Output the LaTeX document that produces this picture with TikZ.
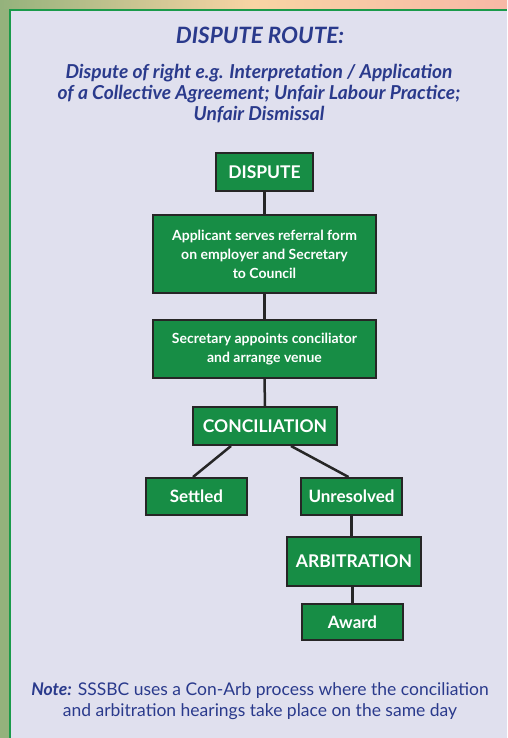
\documentclass[tikz,border=0pt]{standalone}
\usepackage{fontspec}
\setmainfont{Lato}
\usetikzlibrary{calc}
\definecolor{navy}{HTML}{2A3A8C}
\definecolor{boxgreen}{HTML}{178D45}
\definecolor{panel}{HTML}{E0E0EE}
\definecolor{frame}{HTML}{1A9A4A}
\definecolor{bgleft}{HTML}{94B27C}
\definecolor{bgmid}{HTML}{F8D4A4}
\definecolor{bgright}{HTML}{F8B8A6}
\tikzset{
  gbox/.style={draw=black!85, line width=2pt, fill=boxgreen, text=white,
    font=\bfseries, align=center, inner sep=0pt},
  conn/.style={draw=black!85, line width=2.5pt},
  heading/.style={text=navy, align=center, inner sep=0pt}
}
\begin{document}
\begin{tikzpicture}[x=1pt,y=-1pt]
\useasboundingbox (0,0) rectangle (507,738);
% background
\fill[bgleft] (0,0) rectangle (9,738);
\shade[left color=bgleft, right color=bgright, middle color=bgmid] (0,0) rectangle (507,9);
\fill[panel] (9,9) rectangle (507,738);
\draw[frame, line width=2.5pt] (10,738) -- (10,10) -- (507,10);
% titles
\node[heading, font=\fontsize{22.5}{24}\selectfont\bfseries\itshape] (title) at (260,35) {DISPUTE ROUTE:};
\node[heading, font=\fontsize{19.2}{21}\selectfont\bfseries\itshape] (sub) at (259,94)
  {Dispute of right e.g. Interpretation / Application\\of a Collective Agreement; Unfair Labour Practice;\\Unfair Dismissal};
% boxes
\node[gbox, minimum width=97pt, minimum height=38pt, font=\fontsize{17.5}{18}\selectfont\bfseries] (disp) at (264.5,172) {DISPUTE};
\node[gbox, minimum width=223pt, minimum height=78pt, font=\fontsize{14}{19}\selectfont\bfseries] (appl) at (264.5,254)
  {Applicant serves referral form\\on employer and Secretary\\to Council};
\node[gbox, minimum width=223pt, minimum height=58pt, font=\fontsize{14}{19}\selectfont\bfseries] (sec) at (264.5,349)
  {Secretary appoints conciliator\\and arrange venue};
\node[gbox, minimum width=144pt, minimum height=38pt, font=\fontsize{17.5}{18}\selectfont\bfseries] (conc) at (265,426) {CONCILIATION};
\node[gbox, minimum width=101pt, minimum height=37pt, font=\fontsize{17}{18}\selectfont\bfseries] (sett) at (196.5,496.5) {Settled};
\node[gbox, minimum width=101pt, minimum height=37pt, font=\fontsize{17}{18}\selectfont\bfseries] (unres) at (351.5,496.5) {Unresolved};
\node[gbox, minimum width=134pt, minimum height=49pt, font=\fontsize{17.5}{18}\selectfont\bfseries] (arb) at (354,561.5) {ARBITRATION};
\node[gbox, minimum width=101pt, minimum height=36pt, font=\fontsize{17}{18}\selectfont\bfseries] (award) at (352.5,622) {Award};
% connectors
\path[conn] (disp.south) -- (appl.north);
\path[conn] (appl.south) -- (sec.north);
\path[conn] (sec.south) -- (conc.north);
\path[conn] ([xshift=39pt]conc.south west) -- ([xshift=48pt]sett.north west);
\path[conn] ([xshift=99pt]conc.south west) -- ([xshift=-3pt]unres.north);
\path[conn] (unres.south) -- (unres.south |- arb.north);
\path[conn] (award.north |- arb.south) -- (award.north);
% note
\node[heading, font=\fontsize{17.5}{21}\selectfont] (note) at (260,701)
  {\textbf{\textit{Note:}} SSSBC uses a Con-Arb process where the conciliation\\and arbitration hearings take place on the same day};
\end{tikzpicture}
\end{document}
